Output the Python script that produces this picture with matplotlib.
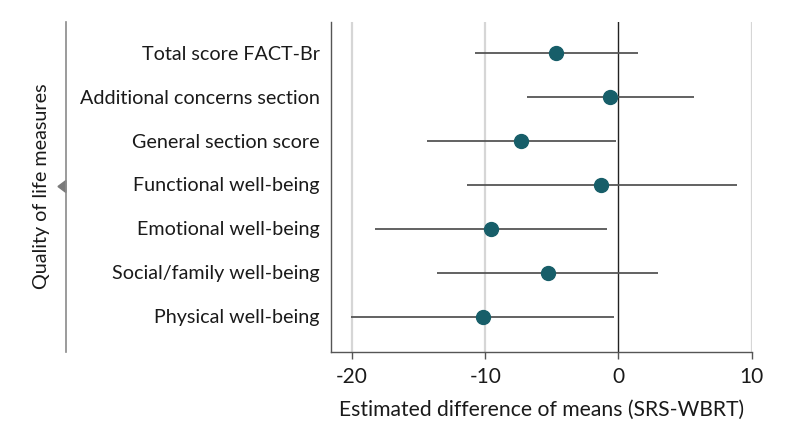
import matplotlib
matplotlib.use('Agg')
import matplotlib.pyplot as plt
from matplotlib.lines import Line2D
from matplotlib.patches import Polygon

plt.rcParams['font.family'] = ['Lato', 'DejaVu Sans']

# 項目 (上から下)
measures = [
    'Total score FACT-Br',
    'Additional concerns section',
    'General section score',
    'Functional well-being',
    'Emotional well-being',
    'Social/family well-being',
    'Physical well-being',
]
estimate = [-4.7, -0.6, -7.3, -1.3, -9.6, -5.3, -10.2]
ci_low = [-10.8, -6.9, -14.4, -11.4, -18.3, -13.6, -20.1]
ci_high = [1.45, 5.7, -0.2, 8.9, -0.85, 2.95, -0.3]
xticks = [-20, -10, 0, 10]

W, H = 794, 437
fig = plt.figure(figsize=(W / 100, H / 100), dpi=100)
ax = fig.add_axes([330.7 / W, 1 - 351.7 / H, (751.7 - 330.7) / W, (351.7 - 21.7) / H])

n = len(measures)
ys = [n - 1 - i for i in range(n)]

for x in xticks:
    if x == 0:
        ax.axvline(x, color='#222222', lw=1.0, zorder=1)
    else:
        ax.axvline(x, color='#d6d6d6', lw=1.6, zorder=0)

ax.hlines(ys, ci_low, ci_high, color='#555555', lw=1.3, zorder=2)
ax.plot(estimate, ys, 'o', color='#175e69', markersize=10, zorder=3)

ax.set_xlim(-21.6, 10)
ax.set_ylim(-0.8, n - 1 + 0.7)
ax.set_xticks(xticks)
ax.set_xticklabels(['-20', '-10', '0', '10'])
ax.set_yticks(ys)
ax.set_yticklabels(measures)
ax.tick_params(axis='y', length=0, pad=8, labelsize=14.2, colors='#1a1a1a')
ax.tick_params(axis='x', length=5, width=1, color='#555555', pad=6, labelsize=15,
               labelcolor='#1a1a1a')
for s in ('top', 'right'):
    ax.spines[s].set_visible(False)
for s in ('left', 'bottom'):
    ax.spines[s].set_color('#555555')
    ax.spines[s].set_linewidth(1.0)

ax.set_xlabel('Estimated difference of means (SRS-WBRT)', fontsize=15.2, color='#1a1a1a',
              labelpad=9)

# 左側のブラケット線と三角
bx = 66 / W
fig.add_artist(Line2D([bx, bx], [1 - 351.7 / H, 1 - 21.7 / H], color='#8a8a8a', lw=1.2,
                      transform=fig.transFigure))
ty = 1 - 186.5 / H
fig.add_artist(Polygon([[bx, ty + 6 / H], [bx, ty - 6 / H], [58 / W, ty]], closed=True,
                       color='#7a7a7a', transform=fig.transFigure))
fig.text(42 / W, ty, 'Quality of life measures', rotation=90, ha='center', va='center',
         fontsize=14.2, color='#1a1a1a')

fig.savefig('out.png', dpi=100)
